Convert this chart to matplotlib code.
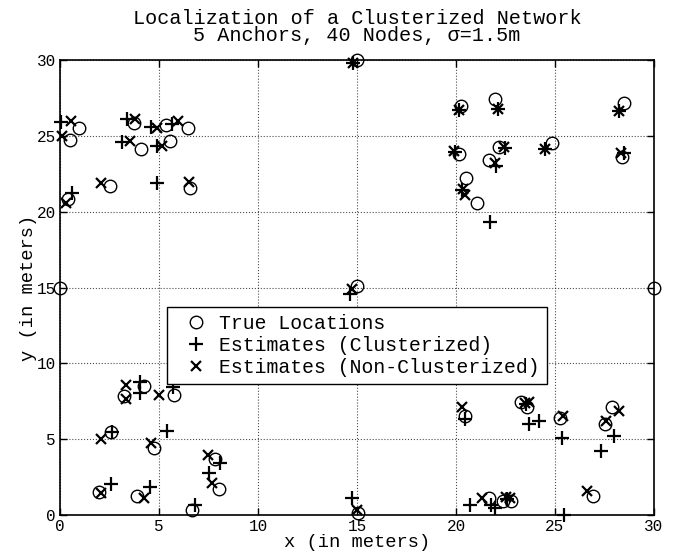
import numpy as np
import matplotlib
matplotlib.use("Agg")
import matplotlib.pyplot as plt

plt.rcParams['font.family'] = ['Liberation Mono', 'DejaVu Sans Mono']

# true node / anchor locations
true_x = [0, 15, 30, 15, 15.05,
          0.95, 0.5, 3.75, 5.33, 6.47, 4.08, 5.58, 2.5, 6.55, 0.42,
          20.25, 21.97, 28.47, 20.13, 22.18, 21.68, 24.85, 28.38, 20.5, 21.05,
          4.25, 3.22, 5.75, 2.58, 4.75, 7.83, 8.05, 1.97, 3.88, 6.67,
          20.45, 23.29, 23.58, 25.25, 27.89, 27.53, 26.94, 21.67, 22.37, 22.79]
true_y = [15, 30, 15, 15.08, 0.1,
          25.5, 24.7, 25.85, 25.7, 25.5, 24.16, 24.65, 21.7, 21.56, 20.86,
          26.96, 27.42, 27.14, 23.77, 24.27, 23.4, 24.5, 23.6, 22.2, 20.6,
          8.52, 7.82, 7.9, 5.44, 4.45, 3.72, 1.74, 1.52, 1.22, 0.33,
          6.54, 7.48, 7.1, 6.38, 7.15, 5.99, 1.27, 1.12, 0.94, 0.9]

# estimates, clusterized
clus_x = [0.05, 3.4, 4.6, 5.67, 3.13, 4.92, 4.88, 0.62,
          14.8, 14.63, 14.75,
          20.13, 22.13, 28.22, 19.95, 22.47, 22.0, 24.52, 28.5, 20.3, 21.7,
          4.05, 4.05, 5.72, 2.62, 5.42, 8.08, 7.55, 2.58, 4.55, 6.83,
          20.45, 23.55, 23.71, 24.18, 25.35, 27.98, 27.34, 20.7, 21.78, 21.96, 22.6, 25.47]
clus_y = [25.9, 26.1, 25.6, 25.8, 24.6, 24.3, 21.9, 21.26,
          29.78, 14.6, 1.1,
          26.7, 26.8, 26.65, 23.95, 24.2, 23.0, 24.15, 23.88, 21.4, 19.3,
          8.74, 8.02, 8.41, 5.48, 5.55, 3.46, 2.75, 2.03, 1.87, 0.64,
          6.32, 7.3, 6.0, 6.23, 5.07, 5.22, 4.19, 0.68, 0.68, 0.45, 1.05, 0.0]

# estimates, non-clusterized
nonclus_x = [0.55, 0.08, 3.8, 4.9, 5.95, 3.53, 5.17, 2.08, 6.5, 0.28,
             14.8, 14.74, 15.0,
             20.13, 22.13, 28.22, 19.88, 22.4, 21.95, 24.52, 28.35, 20.33, 20.47,
             3.33, 3.33, 5.0, 2.05, 4.58, 7.45, 7.7, 2.08, 4.22,
             20.28, 23.46, 23.71, 25.39, 28.23, 27.56, 26.64, 21.32, 22.54, 22.74]
nonclus_y = [26.0, 25.0, 26.1, 25.5, 26.0, 24.65, 24.3, 21.9, 21.96, 20.6,
             29.78, 14.9, 0.35,
             26.7, 26.8, 26.65, 24.0, 24.25, 23.2, 24.15, 23.88, 21.5, 21.1,
             8.59, 7.64, 7.9, 5.04, 4.74, 3.94, 2.09, 1.43, 1.15,
             7.15, 7.37, 7.48, 6.54, 6.89, 6.23, 1.56, 1.12, 1.16, 1.12]

ticks = [0, 5, 10, 15, 20, 25, 30]

fig = plt.figure(figsize=(6.86, 5.57), dpi=100)
ax = fig.add_axes([60/686, 42/557, 594/686, 455/557])

ax.plot(true_x, true_y, 'o', mfc='none', mec='k', ms=9, mew=1.0,
        clip_on=False, label='True Locations')
ax.plot(clus_x, clus_y, '+', color='k', ms=10, mew=1.6,
        clip_on=False, label='Estimates (Clusterized)')
ax.plot(nonclus_x, nonclus_y, 'x', color='k', ms=7, mew=1.6,
        clip_on=False, label='Estimates (Non-Clusterized)')

ax.set_xlim(0, 30)
ax.set_ylim(0, 30)
ax.set_xticks(ticks)
ax.set_yticks(ticks)
ax.tick_params(direction='in', top=True, right=True, length=5, width=1,
               labelsize=11.5, pad=3)
ax.grid(True, linestyle=':', color='k', linewidth=0.8, alpha=0.7)
for s in ax.spines.values():
    s.set_linewidth(1.2)

ax.set_xlabel('x (in meters)', fontsize=13.5, labelpad=0)
ax.set_ylabel('y (in meters)', fontsize=13.5, labelpad=0)
ax.set_title('Localization of a Clusterized Network\n5 Anchors, 40 Nodes, σ=1.5m',
             fontsize=14.5, linespacing=0.85, pad=14)

leg = ax.legend(loc='upper left', bbox_to_anchor=(5.4, 13.7),
                bbox_transform=ax.transData, borderaxespad=0,
                fontsize=14.2, fancybox=False, edgecolor='k', framealpha=1,
                handlelength=2.2, handletextpad=0.1, labelspacing=0.15,
                borderpad=0.35)
leg.get_frame().set_linewidth(1.0)

fig.savefig('out.png', dpi=100)
